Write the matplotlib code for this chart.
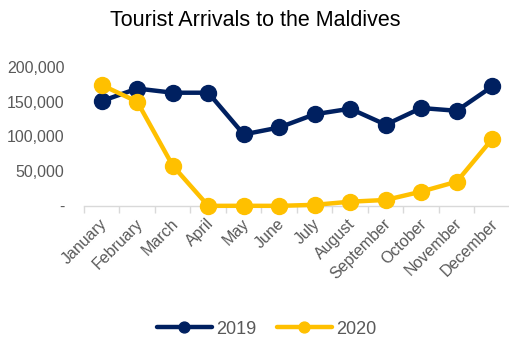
import matplotlib
matplotlib.use("Agg")
import matplotlib.pyplot as plt
import matplotlib.transforms as mtransforms
import numpy as np
from matplotlib.ticker import FuncFormatter, FixedLocator

months = ["January", "February", "March", "April", "May", "June", "July",
          "August", "September", "October", "November", "December"]
arrivals_2019 = [151000, 169000, 163000, 163000, 103000, 113000, 132000,
                 140000, 117000, 141000, 137000, 172000]
arrivals_2020 = [174000, 150000, 58000, 200, 300, 200, 1700,
                 6200, 8700, 20700, 35000, 96500]

plt.rcParams['font.family'] = ['Liberation Sans', 'DejaVu Sans']
gray = "#595959"

fig = plt.figure(figsize=(5.1, 3.4), dpi=100)
ax = fig.add_axes([84/510, 1-206/340, 1-84/510, (206-67)/340])
x = np.arange(len(months))
ax.plot(x, arrivals_2019, color="#002060", lw=3.2, marker="o", ms=11.5,
        label="2019", solid_capstyle="round", clip_on=False, zorder=3)
ax.plot(x, arrivals_2020, color="#FFC000", lw=3.2, marker="o", ms=11.5,
        label="2020", solid_capstyle="round", clip_on=False, zorder=3)

ax.set_xlim(-0.5, 11.5)
ax.set_ylim(0, 200000)
ax.set_yticks([0, 50000, 100000, 150000, 200000])
ax.yaxis.set_major_formatter(FuncFormatter(lambda v, p: "-" if v == 0 else f"{int(v):,}"))
ax.tick_params(axis="y", length=0, pad=14, labelsize=11.5, labelcolor=gray)

ax.set_xticks(x)
ax.set_xticklabels(months, rotation=45, ha="right", va="center", rotation_mode="anchor")
ax.tick_params(axis="x", which="major", length=0, pad=11, labelsize=11.5, labelcolor=gray)
offset = mtransforms.ScaledTranslation(3/100, 0, fig.dpi_scale_trans)
for lab in ax.get_xticklabels():
    lab.set_transform(lab.get_transform() + offset)
ax.xaxis.set_minor_locator(FixedLocator(np.arange(-0.5, 12, 1)))
ax.tick_params(axis="x", which="minor", length=5, color="#d9d9d9", width=1)

for s in ["top", "right", "left"]:
    ax.spines[s].set_visible(False)
ax.spines["bottom"].set_color("#d9d9d9")
ax.spines["bottom"].set_linewidth(1)
ax.spines["bottom"].set_zorder(1)

fig.text(0.5, 0.94, "Tourist Arrivals to the Maldives", ha="center", va="center",
         fontsize=15.5, color="black")

leg = fig.legend(loc="center", bbox_to_anchor=(0.5225, 0.032), ncol=2, frameon=False,
                 fontsize=13, handlelength=3.05, columnspacing=1.15, handletextpad=0.22,
                 markerscale=0.68, labelcolor=gray, borderpad=0.2)

fig.savefig("out.png", dpi=100)
